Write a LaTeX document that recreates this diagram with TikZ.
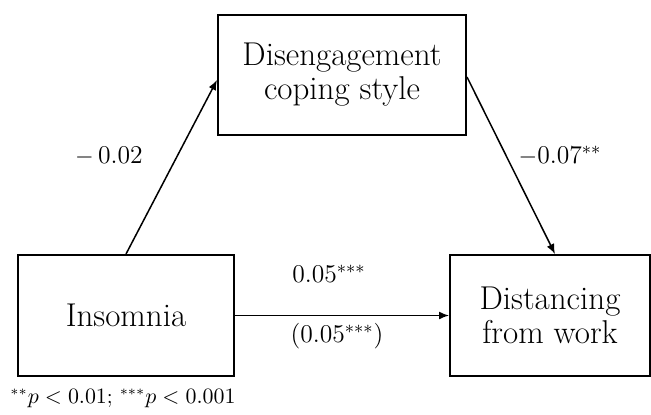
\documentclass[tikz,border=0pt]{standalone}
\usetikzlibrary{arrows.meta}
\newdimen\unitsize
\setlength{\unitsize}{0.5pt}

\begin{document}
\begin{tikzpicture}[x=\unitsize,y=-\unitsize,
  varbox/.style={draw,line width=1pt,align=center,inner sep=0pt,
    font=\fontsize{16.5}{17}\selectfont},
  effect/.style={-{Latex[length=5pt,width=4pt]},line width=0.75pt},
  coef/.style={anchor=base,font=\fontsize{12.8}{14}\selectfont}]
\useasboundingbox (0,0) rectangle (651,414);
% the three variables
\node[varbox,minimum width=124pt,minimum height=60pt] (cope) at (342,75)
  {Disengagement\\coping style};
\node[varbox,minimum width=108pt,minimum height=60.5pt] (insom) at (126,315.5)
  {Insomnia};
\node[varbox,minimum width=100pt,minimum height=60.5pt] (dist) at (550,315.5)
  {Distancing\\from work};
% paths
\draw[effect] (insom.north) -- ([yshift=-2.5pt]cope.west);
\draw[effect] ([yshift=-1pt]cope.east) -- ([xshift=2.5pt]dist.north);
\draw[effect] (insom.east) -- (dist.west);
% coefficients
\node[coef] (acoef) at (109,163) {$-$\,0.02};
\node[coef] (bcoef) at (560,163) {$-$0.07$^{**}$};
\node[coef] (ccoef) at (329,282) {0.05$^{***}$};
\node[coef] (dcoef) at (337,342) {(0.05$^{***}$)};
\node[anchor=base west,inner sep=0pt,font=\fontsize{10.5}{12}\selectfont]
  (note) at (10,403) {$^{**}p < 0.01$; $^{***}p < 0.001$};
\end{tikzpicture}
\end{document}
